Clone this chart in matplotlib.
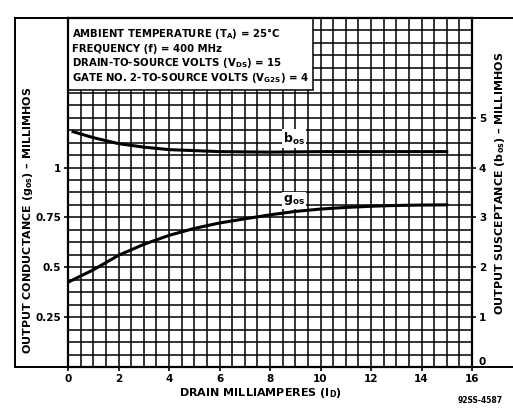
import matplotlib
matplotlib.use("Agg")
import matplotlib.pyplot as plt
from matplotlib import font_manager
from matplotlib.ticker import MultipleLocator
from matplotlib.patches import Rectangle
from matplotlib.lines import Line2D

# pick a narrow bold face if there is one
fam = "DejaVu Sans"
for cand in ["Liberation Sans Narrow", "DejaVu Sans Condensed"]:
    try:
        font_manager.findfont(cand, fallback_to_default=False)
        fam = cand
        break
    except Exception:
        pass

plt.rcParams["font.family"] = [fam, "DejaVu Sans"]
plt.rcParams["font.weight"] = "bold"
plt.rcParams["mathtext.fontset"] = "custom"
plt.rcParams["mathtext.rm"] = fam + ":bold"
plt.rcParams["mathtext.it"] = fam + ":bold"
plt.rcParams["mathtext.default"] = "rm"

# output conductance g_os (left axis, millimhos)
id_g = [0, 1, 2, 3, 4, 5, 6, 7, 8, 9, 10, 11, 12, 13, 14, 15]
g_os = [0.425, 0.487, 0.56, 0.615, 0.66, 0.695, 0.722, 0.743, 0.763, 0.78,
        0.792, 0.80, 0.806, 0.81, 0.812, 0.813]

# output susceptance b_os (right axis, millimhos)
id_b = [0.2, 1, 2, 3, 4, 5, 6, 8, 10, 12, 14, 15]
b_os = [4.72, 4.6, 4.48, 4.41, 4.36, 4.34, 4.32, 4.31, 4.32, 4.32, 4.32, 4.32]

x_ticks = [0, 2, 4, 6, 8, 10, 12, 14, 16]
left_ticks = [0.25, 0.5, 0.75, 1]
left_labels = ["0.25", "0.5", "0.75", "1"]
right_ticks = [0, 1, 2, 3, 4, 5]

conditions = [
    "AMBIENT TEMPERATURE (T$_A$) = 25\u00b0C",
    "FREQUENCY (f) = 400 MHz",
    "DRAIN-TO-SOURCE VOLTS (V$_{DS}$) = 15",
    "GATE NO. 2-TO-SOURCE VOLTS (V$_{G2S}$) = 4",
]

fig = plt.figure(figsize=(5.13, 4.13), dpi=100)
ax = fig.add_axes([0.1326, 0.1114, 0.7875, 0.845])

ax.set_xlim(0, 16)
ax.set_ylim(0, 1.75)
ax.xaxis.set_minor_locator(MultipleLocator(0.5))
ax.yaxis.set_minor_locator(MultipleLocator(0.0625))
ax.set_xticks(x_ticks)
ax.set_yticks(left_ticks)
ax.set_yticklabels(left_labels)
ax.set_axisbelow(True)
ax.grid(which="both", color="black", linewidth=1.1)
ax.tick_params(which="minor", length=0)
ax.tick_params(which="major", length=3, width=1.2, labelsize=7.5, pad=2)
for s in ax.spines.values():
    s.set_linewidth(1.6)

# white box for the test conditions
ax.add_patch(Rectangle((0, 1.39), 9.7, 0.36, facecolor="white",
                       edgecolor="black", linewidth=1.1, zorder=1.5))
line_y = [1.67, 1.597, 1.524, 1.451]
for txt, yy in zip(conditions, line_y):
    ax.text(0.15, yy, txt, fontsize=7.3, va="center", ha="left", zorder=5)

ax.plot(id_g, g_os, color="black", linewidth=2.2, zorder=3)
ax.text(8.95, 0.835, "g$_{os}$", fontsize=9, ha="center", va="center", zorder=5,
        bbox=dict(facecolor="white", edgecolor="none", pad=1))

ax2 = ax.twinx()
ax2.set_ylim(0, 7)
ax2.set_yticks(right_ticks)
ax2.tick_params(length=3, width=1.2, labelsize=7.5, pad=2)
ax2.get_yticklabels()[0].set_va("bottom")
for s in ax2.spines.values():
    s.set_visible(False)
ax2.plot(id_b, b_os, color="black", linewidth=2.2, zorder=3)
ax2.text(8.95, 4.58, "b$_{os}$", fontsize=9, ha="center", va="center", zorder=5,
         bbox=dict(facecolor="white", edgecolor="none", pad=1))

# outer frame of the datasheet figure
x0 = 15 / 513
y_top = 0.1114 + 0.845
y_bot = 0.1114
for xs, ys in [([x0, x0], [y_bot, y_top]), ([x0, 1], [y_top, y_top]), ([x0, 1], [y_bot, y_bot])]:
    fig.add_artist(Line2D(xs, ys, color="black", linewidth=1.4))

fig.text(0.507, 0.048, "DRAIN MILLIAMPERES (I$_D$)", fontsize=8, ha="center", va="center")
fig.text(0.055, 0.467, "OUTPUT CONDUCTANCE (g$_{os}$) \u2013 MILLIMHOS", fontsize=8,
         rotation=90, ha="center", va="center")
fig.text(0.975, 0.555, "OUTPUT SUSCEPTANCE (b$_{os}$) \u2013 MILLIMHOS", fontsize=8,
         rotation=90, ha="center", va="center")
fig.text(0.936, 0.031, "92SS-4587", fontsize=5.5, ha="center", va="center")

fig.savefig("out.png", dpi=100)
